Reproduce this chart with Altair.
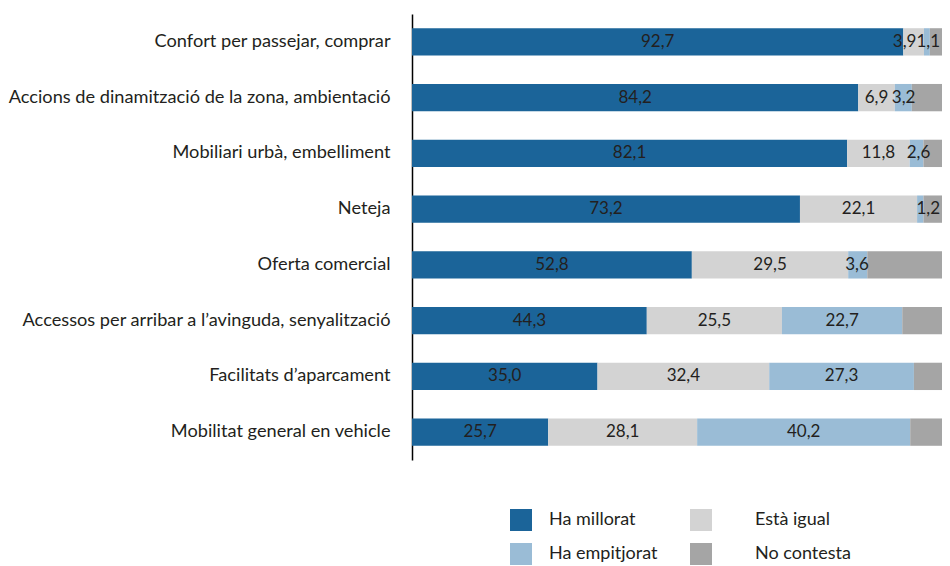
import altair as alt
import pandas as pd

categories = [
    "Confort per passejar, comprar",
    "Accions de dinamització de la zona, ambientació",
    "Mobiliari urbà, embelliment",
    "Neteja",
    "Oferta comercial",
    "Accessos per arribar a l\u2019avinguda, senyalització",
    "Facilitats d\u2019aparcament",
    "Mobilitat general en vehicle",
]
series = ["Ha millorat", "Està igual", "Ha empitjorat", "No contesta"]
colors = ["#1b6499", "#d3d3d3", "#9abcd6", "#a5a5a5"]

ha_millorat = [92.7, 84.2, 82.1, 73.2, 52.8, 44.3, 35.0, 25.7]
esta_igual = [3.9, 6.9, 11.8, 22.1, 29.5, 25.5, 32.4, 28.1]
ha_empitjorat = [1.1, 3.2, 2.6, 1.2, 3.6, 22.7, 27.3, 40.2]
no_contesta = [2.3, 5.7, 3.5, 3.5, 14.1, 7.5, 5.3, 6.0]

values = [ha_millorat, esta_igual, ha_empitjorat, no_contesta]

rows = []
for i, cat in enumerate(categories):
    start = 0.0
    for s, name in enumerate(series):
        v = values[s][i]
        end = start + v
        small = name == "Ha empitjorat" and v < 5
        rows.append({
            "cat": cat,
            "serie": name,
            "value": v,
            "start": start,
            "end": end,
            "mid": (start + end) / 2,
            "full": 100.0,
            "label": f"{v:.1f}".replace(".", ","),
            "show": name != "No contesta",
            "small": small and start <= 95,
            "edge": small and start > 95,
            "tight": name == "Està igual" and v < 5,
        })
        start = end
df = pd.DataFrame(rows)

FONT = "Lato"
TXT = "#231f20"

y_enc = alt.Y("cat:N", sort=categories, title=None,
              scale=alt.Scale(paddingInner=0.51, paddingOuter=0.255),
              axis=alt.Axis(ticks=False, labelPadding=22, labelFontSize=18.2,
                            labelFont=FONT, labelColor=TXT, domainColor="#000000",
                            domainWidth=1.5, labelLimit=500))
x_scale = alt.Scale(domain=[0, 100], nice=False, zero=True)

bars = alt.Chart(df).mark_bar().encode(
    y=y_enc,
    x=alt.X("start:Q", scale=x_scale, axis=None),
    x2="end:Q",
    color=alt.Color("serie:N", scale=alt.Scale(domain=series, range=colors),
                    legend=alt.Legend(title=None, orient="none", legendX=98, legendY=495,
                                      columns=2, direction="horizontal",
                                      symbolType="square", symbolSize=484,
                                      symbolStrokeWidth=0, labelFontSize=18, labelFont=FONT,
                                      labelColor=TXT, labelOffset=17, columnPadding=32,
                                      rowPadding=12,
                                      labelExpr="indexof(['Està igual', 'No contesta'], datum.value) >= 0 ? '\u2800\u2800' + datum.label : datum.label")),
)

base_text = alt.Chart(df).encode(
    y=alt.Y("cat:N", sort=categories),
    text="label:N",
)
text_center = base_text.transform_filter(
    "datum.show && !datum.small && !datum.edge && !datum.tight"
).mark_text(fontSize=17, font=FONT, color=TXT, baseline="middle", align="center").encode(
    x=alt.X("mid:Q", scale=x_scale)
)
text_tight = base_text.transform_filter(
    "datum.tight"
).mark_text(fontSize=17, font=FONT, color=TXT, baseline="middle", align="center", dx=-9).encode(
    x=alt.X("mid:Q", scale=x_scale)
)
text_left = base_text.transform_filter(
    "datum.small"
).mark_text(fontSize=17, font=FONT, color=TXT, baseline="middle", align="left", dx=-3).encode(
    x=alt.X("start:Q", scale=x_scale)
)
text_edge = base_text.transform_filter(
    "datum.edge"
).mark_text(fontSize=17, font=FONT, color=TXT, baseline="middle", align="right", dx=-2).encode(
    x=alt.X("full:Q", scale=x_scale)
)

chart = alt.layer(bars, text_center, text_tight, text_left, text_edge).properties(
    width=530, height=446,
    autosize=alt.AutoSizeParams(type="none"),
    padding={"left": 404, "top": 6, "right": 0, "bottom": 106},
).configure_view(stroke=None)

chart.save("out.html", embed_options={"renderer": "svg", "actions": False})
